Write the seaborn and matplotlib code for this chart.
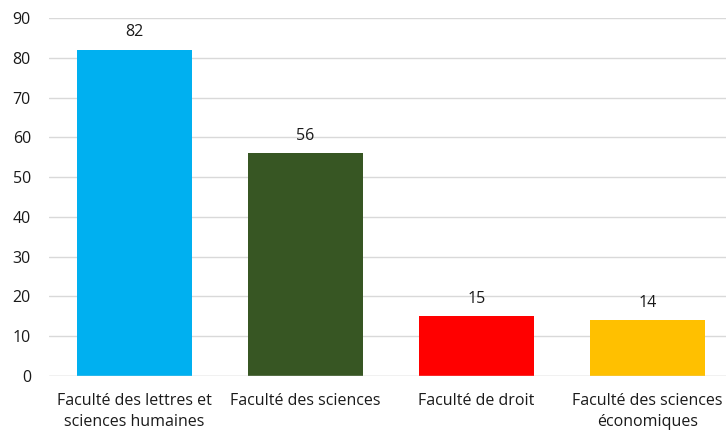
import matplotlib
matplotlib.use("Agg")
import matplotlib.pyplot as plt
import seaborn as sns
import pandas as pd

categories = ["Faculté des lettres et\nsciences humaines", "Faculté des sciences",
              "Faculté de droit", "Faculté des sciences\néconomiques"]
values = [82, 56, 15, 14]
colors = ["#00B0F0", "#375623", "#FF0000", "#FFC000"]

sns.set_theme(style="white")
plt.rcParams['font.family'] = ['Open Sans', 'DejaVu Sans']

df = pd.DataFrame({"cat": categories, "val": values})
fig = plt.figure(figsize=(7.26, 4.33), dpi=100)
ax = fig.add_axes([49/726, 1-376/433, 1-49/726, (376-18)/433])
sns.barplot(data=df, x="cat", y="val", hue="cat", palette=colors, legend=False,
            width=0.67, ax=ax, saturation=1, linewidth=0)
ax.set_ylim(0, 90)
ax.set_xlim(-0.5, 3.46)
ax.set_yticks(range(0, 91, 10))
ax.yaxis.grid(True, color="#D9D9D9", linewidth=1)
ax.set_axisbelow(True)
for s in ax.spines.values():
    s.set_visible(False)
ax.axhline(0, color="#D9D9D9", linewidth=1)
ax.set_xlabel("")
ax.set_ylabel("")
ax.tick_params(axis="both", length=0, labelsize=11.5, colors="#1a1a1a", pad=12)
ax.tick_params(axis="y", pad=13)
for lbl in ax.get_xticklabels():
    lbl.set_linespacing(1.45)
for c in ax.containers:
    ax.bar_label(c, fmt="%d", padding=7, fontsize=11.5, color="#1a1a1a")
fig.savefig("out.png", dpi=100)
